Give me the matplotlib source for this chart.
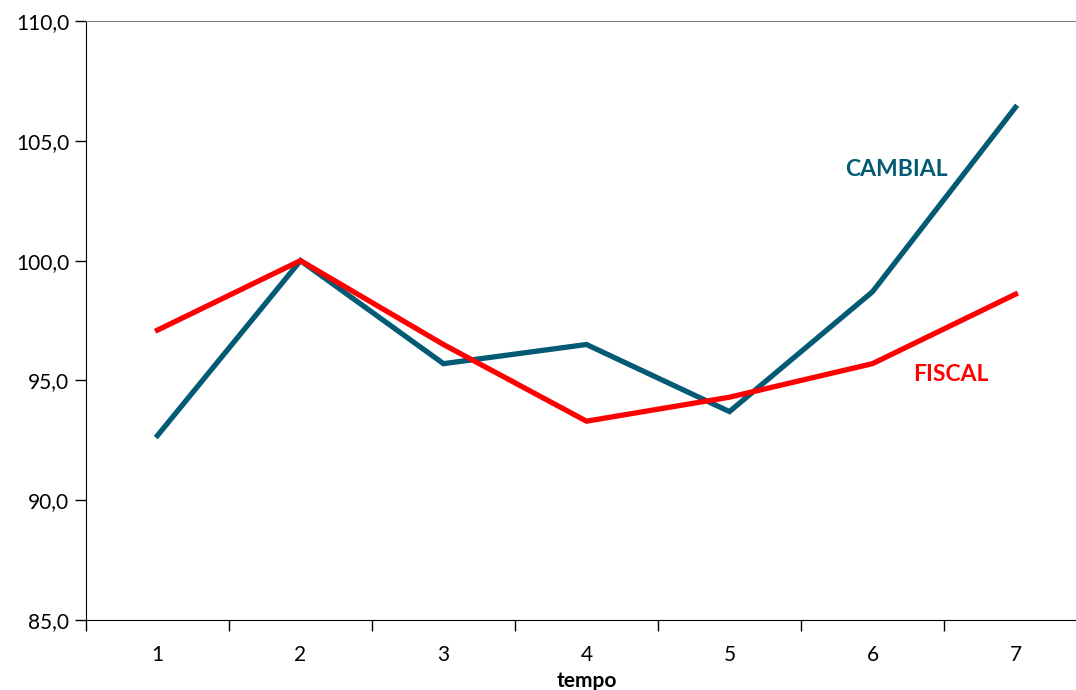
import matplotlib.pyplot as plt
from matplotlib.ticker import FuncFormatter

# Séries (índice, período 2 = 100)
tempo = [1, 2, 3, 4, 5, 6, 7]
cambial = [92.7, 100.0, 95.7, 96.5, 93.7, 98.7, 106.4]
fiscal = [97.1, 100.0, 96.5, 93.3, 94.3, 95.7, 98.6]

cor_cambial = "#025A74"
cor_fiscal = "#FF0000"

plt.rcParams['font.family'] = ['Lato', 'DejaVu Sans']

fig = plt.figure(figsize=(10.76, 6.9), dpi=100)
ax = fig.add_axes([0.0799, 0.1014, 0.9303, 0.8681])

ax.plot(tempo, cambial, color=cor_cambial, lw=3.8, solid_joinstyle='miter')
ax.plot(tempo, fiscal, color=cor_fiscal, lw=3.8, solid_joinstyle='miter')

ax.set_xlim(0.5, 7.5)
ax.set_ylim(85, 110)
ax.set_yticks([85, 90, 95, 100, 105, 110])
ax.yaxis.set_major_formatter(FuncFormatter(lambda v, p: f"{v:.1f}".replace('.', ',')))

# ticks do eixo x entre as categorias, rótulos no centro
ax.set_xticks([t - 0.5 for t in tempo] + [7.5])
ax.set_xticklabels([])
ax.set_xticks(tempo, minor=True)
ax.set_xticklabels([str(t) for t in tempo], minor=True)
ax.tick_params(axis='x', which='minor', length=0, pad=18, labelsize=15)
ax.tick_params(axis='x', which='major', length=8, width=1, direction='out')
ax.tick_params(axis='y', length=8, width=1, direction='out', pad=4, labelsize=15)

ax.spines['right'].set_visible(False)
ax.spines['top'].set_color('#808080')
ax.spines['left'].set_color('black')
ax.spines['bottom'].set_color('black')

ax.set_xlabel('tempo', fontsize=15, fontweight='bold', labelpad=4)

ax.text(6.17, 103.8, 'CAMBIAL', color=cor_cambial, fontsize=16.5, fontweight='bold',
        ha='center', va='center')
ax.text(6.55, 95.25, 'FISCAL', color=cor_fiscal, fontsize=16.5, fontweight='bold',
        ha='center', va='center')

fig.savefig('out.png', dpi=100)
